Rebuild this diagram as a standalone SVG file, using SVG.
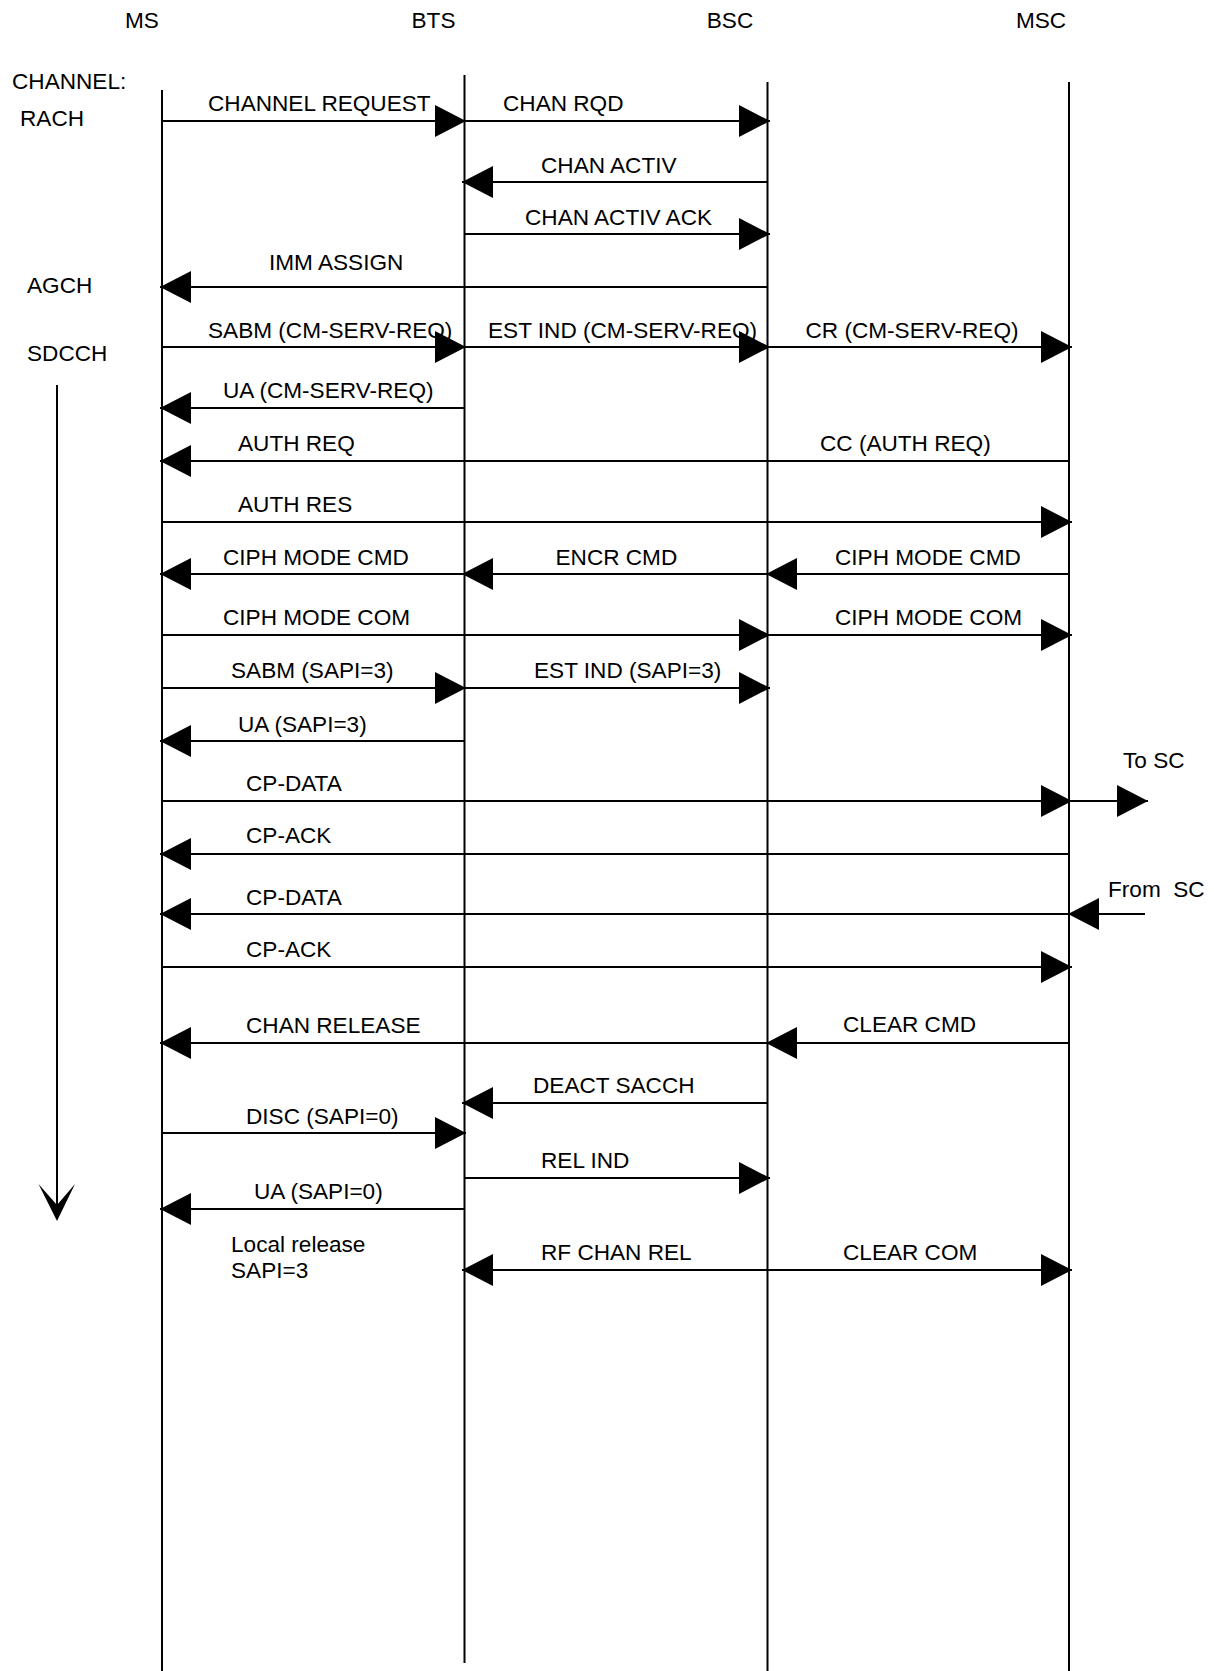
<svg xmlns="http://www.w3.org/2000/svg" width="1214" height="1671" viewBox="0 0 1214 1671">
<defs>
<style>
text{font-family:"Liberation Sans",Arial,sans-serif;font-size:22.6px;fill:#000}
.hd{text-anchor:middle}
.life{stroke:#000;stroke-width:2;fill:none}
.msg{stroke:#000;stroke-width:2;fill:none;marker-end:url(#ah)}
.dbl{stroke:#000;stroke-width:2;fill:none;marker-end:url(#ah);marker-start:url(#ahs)}
</style>
<marker id="ah" markerUnits="userSpaceOnUse" viewBox="0 0 31 32" refX="31" refY="16" markerWidth="31" markerHeight="32" orient="auto">
<path d="M0,0 L31,16 L0,32 Z" fill="#000"/>
</marker>
<marker id="ahs" markerUnits="userSpaceOnUse" viewBox="0 0 31 32" refX="31" refY="16" markerWidth="31" markerHeight="32" orient="auto-start-reverse">
<path d="M0,0 L31,16 L0,32 Z" fill="#000"/>
</marker>
</defs>
<rect width="1214" height="1671" fill="#fff"/>

<g id="node-MS">
<text class="hd" x="142" y="28">MS</text>
<line class="life" x1="162" y1="90" x2="162" y2="1671"/>
</g>
<g id="node-BTS">
<text class="hd" x="433.5" y="28">BTS</text>
<line class="life" x1="464.5" y1="75" x2="464.5" y2="1663"/>
</g>
<g id="node-BSC">
<text class="hd" x="730" y="28">BSC</text>
<line class="life" x1="767.5" y1="82" x2="767.5" y2="1671"/>
</g>
<g id="node-MSC">
<text class="hd" x="1041" y="28">MSC</text>
<line class="life" x1="1069" y1="82" x2="1069" y2="1671"/>
</g>

<g id="channels">
<text x="12" y="89">CHANNEL:</text>
<text x="20" y="126">RACH</text>
<text x="27" y="293">AGCH</text>
<text x="27" y="361">SDCCH</text>
<line class="life" x1="57" y1="385" x2="57" y2="1206"/>
<path d="M38.5,1184 L57,1221 L75,1184 L57,1205 Z" fill="#000"/>
</g>

<g id="connectors">
<line class="msg" x1="162" y1="121" x2="466" y2="121"/>
<line class="msg" x1="464.5" y1="121" x2="770" y2="121"/>
<line class="msg" x1="767.5" y1="182" x2="462" y2="182"/>
<line class="msg" x1="464.5" y1="234" x2="770" y2="234"/>
<line class="msg" x1="767.5" y1="287" x2="160" y2="287"/>
<line class="msg" x1="162" y1="347" x2="466" y2="347"/>
<line class="msg" x1="464.5" y1="347" x2="770" y2="347"/>
<line class="msg" x1="767.5" y1="347" x2="1072" y2="347"/>
<line class="msg" x1="464.5" y1="408" x2="160" y2="408"/>
<line class="msg" x1="1069" y1="461" x2="160" y2="461"/>
<line class="msg" x1="162" y1="522" x2="1072" y2="522"/>
<line class="msg" x1="464.5" y1="574" x2="160" y2="574"/>
<line class="msg" x1="767.5" y1="574" x2="462" y2="574"/>
<line class="msg" x1="1069" y1="574" x2="766" y2="574"/>
<line class="msg" x1="162" y1="635" x2="770" y2="635"/>
<line class="msg" x1="767.5" y1="635" x2="1072" y2="635"/>
<line class="msg" x1="162" y1="688" x2="466" y2="688"/>
<line class="msg" x1="464.5" y1="688" x2="770" y2="688"/>
<line class="msg" x1="464.5" y1="741" x2="160" y2="741"/>
<line class="msg" x1="162" y1="801" x2="1072" y2="801"/>
<line class="msg" x1="1069" y1="801" x2="1148" y2="801"/>
<line class="msg" x1="1069" y1="854" x2="160" y2="854"/>
<line class="msg" x1="1069" y1="914" x2="160" y2="914"/>
<line class="msg" x1="1145" y1="914" x2="1068" y2="914"/>
<line class="msg" x1="162" y1="967" x2="1072" y2="967"/>
<line class="msg" x1="767.5" y1="1043" x2="160" y2="1043"/>
<line class="msg" x1="1069" y1="1043" x2="766" y2="1043"/>
<line class="msg" x1="767.5" y1="1103" x2="462" y2="1103"/>
<line class="msg" x1="162" y1="1133" x2="466" y2="1133"/>
<line class="msg" x1="464.5" y1="1178" x2="770" y2="1178"/>
<line class="msg" x1="464.5" y1="1209" x2="160" y2="1209"/>
<line class="dbl" x1="462" y1="1270" x2="1072" y2="1270"/>
</g>

<g id="labels">
<text x="208" y="111">CHANNEL REQUEST</text>
<text x="503" y="111">CHAN RQD</text>
<text x="541" y="173">CHAN ACTIV</text>
<text x="525" y="225">CHAN ACTIV ACK</text>
<text x="269" y="270">IMM ASSIGN</text>
<text x="208" y="338">SABM (CM-SERV-REQ)</text>
<text x="488" y="338">EST IND (CM-SERV-REQ)</text>
<text x="805.5" y="338">CR (CM-SERV-REQ)</text>
<text x="223" y="398">UA (CM-SERV-REQ)</text>
<text x="238" y="451">AUTH REQ</text>
<text x="820" y="451">CC (AUTH REQ)</text>
<text x="238" y="512">AUTH RES</text>
<text x="223" y="565">CIPH MODE CMD</text>
<text x="555.5" y="565">ENCR CMD</text>
<text x="835" y="565">CIPH MODE CMD</text>
<text x="223" y="625">CIPH MODE COM</text>
<text x="835" y="625">CIPH MODE COM</text>
<text x="231" y="678">SABM (SAPI=3)</text>
<text x="534" y="678">EST IND (SAPI=3)</text>
<text x="238" y="732">UA (SAPI=3)</text>
<text x="1123" y="768">To SC</text>
<text x="246" y="791">CP-DATA</text>
<text x="246" y="843">CP-ACK</text>
<text x="1108" y="897" xml:space="preserve">From  SC</text>
<text x="246" y="905">CP-DATA</text>
<text x="246" y="957">CP-ACK</text>
<text x="246" y="1033">CHAN RELEASE</text>
<text x="843" y="1032">CLEAR CMD</text>
<text x="533" y="1093">DEACT SACCH</text>
<text x="246" y="1124">DISC (SAPI=0)</text>
<text x="541" y="1168">REL IND</text>
<text x="254" y="1199">UA (SAPI=0)</text>
<text x="231" y="1252">Local release</text>
<text x="231" y="1278">SAPI=3</text>
<text x="541" y="1260">RF CHAN REL</text>
<text x="843" y="1260">CLEAR COM</text>
</g>
</svg>
